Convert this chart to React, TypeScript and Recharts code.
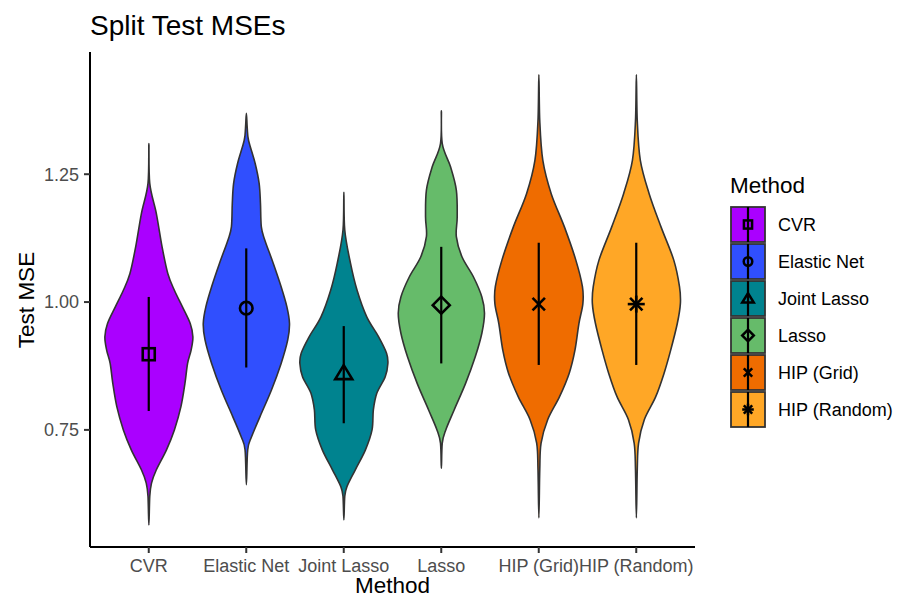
import React from "react";
import { ComposedChart, Bar, Line, ErrorBar, XAxis, YAxis, Customized } from "recharts";

// Violin plot of split test MSEs per method, with mean ± sd point ranges.

const methods = ["CVR", "Elastic Net", "Joint Lasso", "Lasso", "HIP (Grid)", "HIP (Random)"];
const fills = ["#AA00FF", "#304FFE", "#00838F", "#66BB6A", "#EF6C00", "#FFA726"];

const means = [0.898, 0.988, 0.861, 0.994, 0.996, 0.996];
const lower = [0.787, 0.872, 0.763, 0.88, 0.877, 0.877];
const upper = [1.01, 1.105, 0.953, 1.108, 1.116, 1.116];

// violin outlines: [test MSE, relative density], top tip to bottom tip
const cvrDensity = [
  [1.31, 0], [1.232, 0.02], [1.173, 0.17], [1.108, 0.3], [1.056, 0.43], [1.023, 0.58],
  [0.991, 0.76], [0.958, 0.94], [0.932, 1.0], [0.906, 0.96], [0.88, 0.88], [0.841, 0.82],
  [0.796, 0.73], [0.75, 0.58], [0.711, 0.4], [0.672, 0.17], [0.646, 0.06], [0.62, 0.02], [0.564, 0],
];
const elasticDensity = [
  [1.369, 0], [1.34, 0.02], [1.316, 0.05], [1.271, 0.2], [1.232, 0.29], [1.193, 0.32], [1.147, 0.34],
  [1.121, 0.42], [1.076, 0.61], [1.03, 0.79], [0.991, 0.92], [0.958, 0.98], [0.926, 0.94],
  [0.88, 0.79], [0.828, 0.57], [0.776, 0.31], [0.737, 0.12], [0.711, 0.03], [0.643, 0],
];
const jointDensity = [
  [1.215, 0], [1.141, 0.02], [1.076, 0.15], [1.023, 0.3], [0.971, 0.52], [0.932, 0.79],
  [0.9, 0.97], [0.88, 1.0], [0.854, 0.94], [0.822, 0.75], [0.789, 0.67], [0.75, 0.64],
  [0.711, 0.49], [0.672, 0.26], [0.639, 0.07], [0.62, 0.02], [0.574, 0],
];
const lassoDensity = [
  [1.374, 0], [1.31, 0.02], [1.264, 0.21], [1.219, 0.34], [1.167, 0.36], [1.128, 0.34],
  [1.088, 0.47], [1.049, 0.73], [1.01, 0.92], [0.978, 0.98], [0.939, 0.92], [0.893, 0.77],
  [0.841, 0.55], [0.789, 0.29], [0.75, 0.1], [0.724, 0.02], [0.675, 0],
];
const hipGridDensity = [
  [1.445, 0], [1.355, 0.02], [1.277, 0.09], [1.212, 0.28], [1.147, 0.58], [1.082, 0.84],
  [1.03, 0.99], [0.997, 1.0], [0.958, 0.91], [0.906, 0.82], [0.861, 0.69], [0.815, 0.47],
  [0.77, 0.2], [0.724, 0.05], [0.672, 0.02], [0.578, 0],
];
const hipRandomDensity = [
  [1.445, 0], [1.355, 0.02], [1.277, 0.09], [1.212, 0.29], [1.147, 0.56], [1.082, 0.85],
  [1.03, 0.98], [0.997, 1.0], [0.958, 0.93], [0.906, 0.78], [0.861, 0.63], [0.815, 0.44],
  [0.77, 0.18], [0.724, 0.05], [0.672, 0.02], [0.578, 0],
];
const densities = [cvrDensity, elasticDensity, jointDensity, lassoDensity, hipGridDensity, hipRandomDensity];

const yTicks = [0.75, 1.0, 1.25];

const data = methods.map((method, i) => {
  const prof = densities[i];
  return {
    method,
    range: [prof[prof.length - 1][0], prof[0][0]],
    mean: means[i],
    err: [means[i] - lower[i], upper[i] - means[i]],
    profile: prof,
  };
});

const FONT = "'Liberation Sans', Arial, Helvetica, sans-serif";

// closed Catmull-Rom spline through pts
function smoothClosed(pts: number[][]) {
  const n = pts.length;
  const p = (k: number) => pts[(k + n) % n];
  let d = `M${pts[0][0]},${pts[0][1]}`;
  for (let i = 0; i < n; i++) {
    const p0 = p(i - 1), p1 = p(i), p2 = p(i + 1), p3 = p(i + 2);
    const c1x = p1[0] + (p2[0] - p0[0]) / 6, c1y = p1[1] + (p2[1] - p0[1]) / 6;
    const c2x = p2[0] - (p3[0] - p1[0]) / 6, c2y = p2[1] - (p3[1] - p1[1]) / 6;
    d += ` C${c1x},${c1y} ${c2x},${c2y} ${p2[0]},${p2[1]}`;
  }
  return d + "Z";
}

function ViolinShape(props: any) {
  const { x, y, width, height, payload, index } = props;
  const prof: number[][] = payload.profile;
  const hi = prof[0][0];
  const lo = prof[prof.length - 1][0];
  const top = Math.min(y, y + height);
  const h = Math.abs(height);
  const cx = x + width / 2;
  const half = width / 2;
  const py = (v: number) => top + ((hi - v) / (hi - lo)) * h;
  const left = prof.map(([v, dd]) => [cx - dd * half, py(v)]);
  const right = prof.slice(1, -1).reverse().map(([v, dd]) => [cx + dd * half, py(v)]);
  return (
    <path d={smoothClosed([...left, ...right])} fill={fills[index]} stroke="#333333" strokeWidth={1.6} />
  );
}

function Marker({ cx, cy, kind, s, w }: { cx: number; cy: number; kind: number; s: number; w: number }) {
  const st = { stroke: "#000", strokeWidth: w, fill: "none" } as const;
  if (kind === 0) return <rect x={cx - 6 * s} y={cy - 6 * s} width={12 * s} height={12 * s} {...st} />;
  if (kind === 1) return <circle cx={cx} cy={cy} r={6.3 * s} {...st} />;
  if (kind === 2)
    return (
      <polygon
        points={`${cx},${cy - 8 * s} ${cx - 8.5 * s},${cy + 6 * s} ${cx + 8.5 * s},${cy + 6 * s}`}
        {...st}
      />
    );
  if (kind === 3)
    return (
      <polygon
        points={`${cx},${cy - 8.5 * s} ${cx + 8.5 * s},${cy} ${cx},${cy + 8.5 * s} ${cx - 8.5 * s},${cy}`}
        {...st}
      />
    );
  const a = 6.2 * s;
  const cross = (
    <>
      <line x1={cx - a} y1={cy - a} x2={cx + a} y2={cy + a} stroke="#000" strokeWidth={w} />
      <line x1={cx - a} y1={cy + a} x2={cx + a} y2={cy - a} stroke="#000" strokeWidth={w} />
    </>
  );
  if (kind === 4) return <g>{cross}</g>;
  return (
    <g>
      {cross}
      <line x1={cx - 8.5 * s} y1={cy} x2={cx + 8.5 * s} y2={cy} stroke="#000" strokeWidth={w} />
      <line x1={cx} y1={cy - 8.5 * s} x2={cx} y2={cy + 8.5 * s} stroke="#000" strokeWidth={w} />
    </g>
  );
}

function MeanDot(props: any) {
  const { cx, cy, index } = props;
  return <Marker key={index} cx={cx} cy={cy} kind={index} s={1} w={2.6} />;
}

function Annotations() {
  return (
    <g style={{ fontFamily: FONT }}>
      <text x={90} y={35} fontSize={28} fill="#000">
        Split Test MSEs
      </text>
      <text x={26} y={300} fontSize={22.5} fill="#000" textAnchor="middle" dy="0.35em" transform="rotate(-90, 26, 300)">
        Test MSE
      </text>
      <text x={392.5} y={593} fontSize={22.5} fill="#000" textAnchor="middle">
        Method
      </text>
      <text x={730} y={193} fontSize={22.5} fill="#000">
        Method
      </text>
      {methods.map((m, i) => {
        const top = 207 + i * 37;
        return (
          <g key={m}>
            <rect x={731} y={top} width={34} height={35} fill={fills[i]} stroke="#333333" strokeWidth={1.8} />
            <line x1={748} y1={top} x2={748} y2={top + 35} stroke="#000" strokeWidth={2.2} />
            <Marker cx={748} cy={top + 17.5} kind={i} s={0.68} w={2.5} />
            <text x={778} y={top + 17.5} dy="0.35em" fontSize={18} fill="#000">
              {m}
            </text>
          </g>
        );
      })}
    </g>
  );
}

export default function App() {
  return (
    <div style={{ position: "absolute", left: 0, top: 0, width: 899, height: 599, background: "#fff", fontFamily: FONT }}>
      <ComposedChart
        width={899}
        height={599}
        data={data}
        barCategoryGap="5%"
        margin={{ top: 52, right: 204, bottom: 12, left: 30 }}
      >
        <XAxis
          dataKey="method"
          type="category"
          padding={{ left: 10, right: 10 }}
          height={40}
          tickSize={6}
          tickMargin={6}
          interval={0}
          axisLine={{ stroke: "#000", strokeWidth: 2 }}
          tickLine={{ stroke: "#333", strokeWidth: 2 }}
          tick={{ fontSize: 18, fill: "#4D4D4D" }}
        />
        <YAxis
          type="number"
          domain={[0.521, 1.489]}
          allowDataOverflow
          ticks={yTicks}
          width={60}
          tickSize={6}
          tickMargin={5}
          tickFormatter={(v: number) => v.toFixed(2)}
          axisLine={{ stroke: "#000", strokeWidth: 2 }}
          tickLine={{ stroke: "#333", strokeWidth: 2 }}
          tick={{ fontSize: 18, fill: "#4D4D4D" }}
        />
        <Bar dataKey="range" shape={ViolinShape} isAnimationActive={false} legendType="none" />
        <Line
          dataKey="mean"
          stroke="none"
          dot={MeanDot}
          activeDot={false}
          isAnimationActive={false}
          legendType="none"
        >
          <ErrorBar dataKey="err" width={0} stroke="#000" strokeWidth={2.2} direction="y" />
        </Line>
        <Customized component={Annotations} />
      </ComposedChart>
    </div>
  );
}
